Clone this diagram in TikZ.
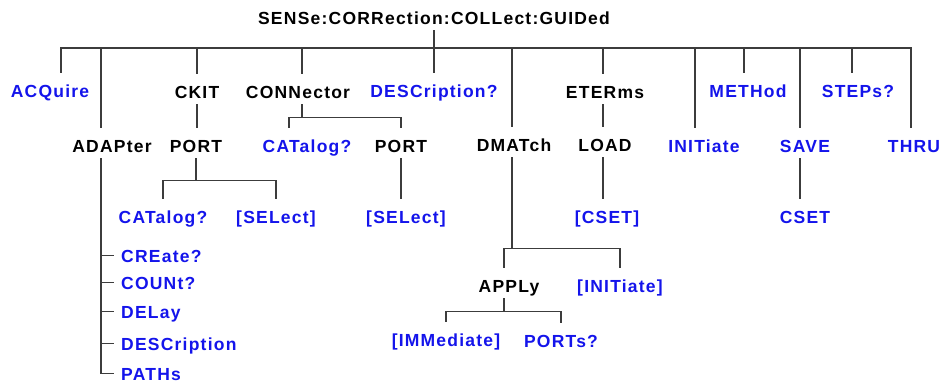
\documentclass[tikz,border=0pt]{standalone}
\usepackage{fontspec}
\setmainfont{Liberation Sans}[LetterSpace=7]
\usepackage{tikz}
\usetikzlibrary{positioning}
\definecolor{cmdblue}{RGB}{20,20,235}
\definecolor{treeline}{RGB}{60,60,60}

\begin{document}
\begin{tikzpicture}[x=1pt, y=-1pt,
    every node/.style={font=\fontsize{17.5}{20}\selectfont\bfseries, inner sep=0pt, text height=24pt, text depth=6pt, anchor=base},
    leaf/.style={text=cmdblue},
    item/.style={text=cmdblue, anchor=base west, text height=12.5pt, text depth=0pt},
    tree/.style={draw=treeline, line width=1.3pt, line cap=rect}]
  \useasboundingbox (0,0) rectangle (942,383);

  \node (title) at (434,24) {SENSe:CORRection:COLLect:GUIDed};

  \node[leaf] (acq) at (50,97) {ACQuire};
  \node (ckit) at (197,98) {CKIT};
  \node (conn) at (298,98) {CONNector};
  \node[leaf] (desc) at (434,97) {DESCription?};
  \node (eter) at (605,98) {ETERms};
  \node[leaf] (meth) at (748,97) {METHod};
  \node[leaf] (steps) at (858,97) {STEPs?};

  \node (adp) at (112,152) {ADAPter};
  \node (port1) at (196,152) {PORT};
  \node[leaf] (cat2) at (307,152) {CATalog?};
  \node (port2) at (401,152) {PORT};
  \node (dmat) at (514,151) {DMATch};
  \node (load) at (605,151) {LOAD};
  \node[leaf] (init) at (704,152) {INITiate};
  \node[leaf] (save) at (805,152) {SAVE};
  \node[leaf] (thru) at (914,152) {THRU};

  \node[leaf] (cat1) at (163,223) {CATalog?};
  \node[leaf] (sel1) at (276,223) {[SELect]};
  \node[leaf] (sel2) at (406,223) {[SELect]};
  \node[leaf] (cset1) at (607,223) {[CSET]};
  \node[leaf] (cset2) at (805,223) {CSET};

  \node (apply) at (509,292) {APPLy};
  \node[leaf] (initb) at (620,292) {[INITiate]};
  \node[leaf] (imm) at (446,346) {[IMMediate]};
  \node[leaf] (ports) at (561,347) {PORTs?};

  \node[item] (cre) at (121,262) {CREate?};
  \node[item] (cnt) at (121,289) {COUNt?};
  \node[item] (del) at (121,318) {DELay};
  \node[item] (dsc) at (121,350) {DESCription};
  \node[item] (pth) at (121,380) {PATHs};

  \foreach \n/\x in {acq/61, adp/101, ckit/197, conn/302, dmat/512, eter/603, init/695, meth/744, save/800, steps/852, thru/911} {
    \coordinate (\n-top) at (\x,48);
    \draw[tree] (\n-top) -- (\n-top |- \n.north);
  }
  \draw[tree] (acq-top) -- (thru-top);
  \draw[tree] (desc.north |- title.south) -- (desc.north);

  \draw[tree] (adp-top |- adp.south) -- (adp-top |- pth.west);
  \foreach \n in {cre, cnt, del, dsc, pth}
    \draw[tree] (adp-top |- \n.west) -- ([xshift=-8pt]\n.west);

  \draw[tree] (ckit.south) -- (ckit.south |- port1.north);
  \draw[tree] (port1.south) -- ++(0,22) coordinate (port1-br);
  \draw[tree] (cat1.north) |- (port1-br) -| (sel1.north);

  \draw[tree] (conn-top |- conn.south) -- ++(0,13) coordinate (conn-br);
  \draw[tree] ([xshift=-18pt]cat2.north) |- (conn-br) -| (port2.north);
  \draw[tree] (port2.south) -- (port2.south |- sel2.north);

  \draw[tree] (dmat-top |- dmat.south) -- ++(0,91) coordinate (dmat-br);
  \draw[tree] ([xshift=-5pt]apply.north) |- (dmat-br) -| (initb.north);
  \draw[tree] ([xshift=-5pt]apply.south) -- ++(0,13) coordinate (apply-br);
  \draw[tree] (imm.north) |- (apply-br) -| (ports.north);

  \draw[tree] (eter-top |- eter.south) -- (eter-top |- load.north);
  \draw[tree] (eter-top |- load.south) -- (eter-top |- cset1.north);
  \draw[tree] (save-top |- save.south) -- (save-top |- cset2.north);
\end{tikzpicture}
\end{document}
